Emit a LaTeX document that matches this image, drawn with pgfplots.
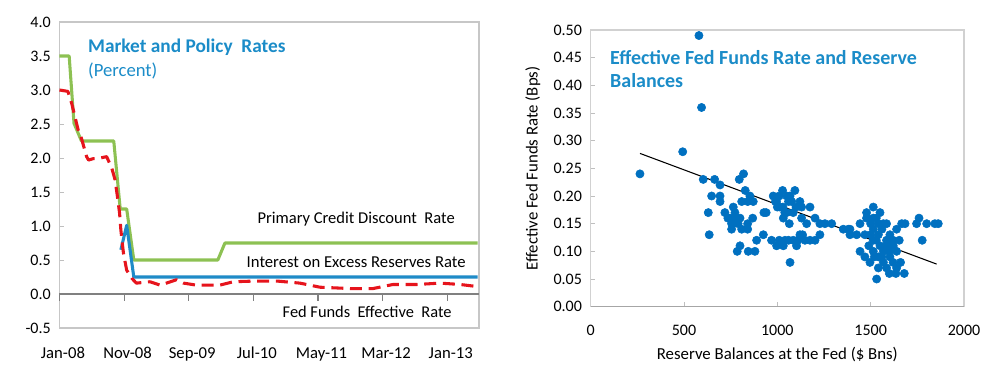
\documentclass[border=0pt]{standalone}
\usepackage{pgfplots}
\pgfplotsset{compat=1.18}
\usepackage{fontspec}
\setmainfont{Carlito}
\definecolor{cgreen}{RGB}{141,193,83}
\definecolor{cblue}{RGB}{31,139,199}
\definecolor{cred}{RGB}{230,20,28}
\definecolor{cdot}{RGB}{0,112,192}
\definecolor{ctitle}{RGB}{27,140,200}
\newcommand{\tf}{\fontsize{12}{14}\selectfont}
\newcommand{\af}{\fontsize{12.5}{15}\selectfont}
\begin{document}
\begin{tikzpicture}
% ---------------- left panel ----------------
\begin{axis}[
  at={(44.6pt,39pt)}, anchor=south west,
  width=314.6pt, height=229.5pt, scale only axis,
  xmin=0, xmax=64.9, ymin=-0.5, ymax=4.0,
  axis line style={draw=black!22, line width=0.9pt},
  xtick={0,10,20,30,40,50,60},
  xticklabels={Jan-08,Nov-08,Sep-09,Jul-10,May-11,Mar-12,Jan-13},
  ytick={-0.5,0,0.5,1,1.5,2,2.5,3,3.5,4},
  xtick pos=bottom, ytick pos=left,
  tick align=inside,
  xtick style={draw=none},
  ytick style={draw=black!25, line width=0.6pt},
  major tick length=3.5pt,
  tick label style={font=\tf},
  /pgf/number format/assume math mode=true,
  yticklabel style={/pgf/number format/fixed, /pgf/number format/fixed zerofill, /pgf/number format/precision=1, xshift=-3pt},
  xticklabel style={font=\af, xshift=2.6pt, yshift=-11pt},
  clip=false,
]
\addplot[black!50, line width=1pt, forget plot] coordinates {(0,0)(64.9,0)};
\addplot[black!50, line width=0.9pt, forget plot] coordinates {(0,0)(0,-0.1)};
\addplot[black!50, line width=0.9pt, forget plot] coordinates {(10,0)(10,-0.1)};
\addplot[black!50, line width=0.9pt, forget plot] coordinates {(20,0)(20,-0.1)};
\addplot[black!50, line width=0.9pt, forget plot] coordinates {(30,0)(30,-0.1)};
\addplot[black!50, line width=0.9pt, forget plot] coordinates {(40,0)(40,-0.1)};
\addplot[black!50, line width=0.9pt, forget plot] coordinates {(50,0)(50,-0.1)};
\addplot[black!50, line width=0.9pt, forget plot] coordinates {(60,0)(60,-0.1)};
\addplot[cgreen, line width=2.3pt, line join=round] coordinates {
(0,3.5)(1.5,3.5)(2.25,2.51)(3.4,2.25)(8.4,2.25)(9.4,1.25)(10.4,1.25)(11.5,0.5)(24.5,0.5)(25.6,0.75)(64.7,0.75)};
\addplot[cblue, line width=2.3pt, line join=round] coordinates {
(9.5,0.65)(10.4,1.01)(11.5,0.25)(64.7,0.25)};
\addplot[cred, line width=2.3pt, dash pattern=on 9pt off 5pt, line join=round] coordinates {
(0,3.0)(1.3,2.98)(1.9,2.80)(2.9,2.41)(3.4,2.29)(4.2,2.02)(4.5,1.97)(5.2,1.99)(6.3,2.0)(7.3,2.02)(8.1,1.85)(8.6,1.68)(8.9,1.48)(9.3,1.19)(9.5,0.94)(9.9,0.6)(10.4,0.35)(11.2,0.23)(11.9,0.16)(14.0,0.18)(15.6,0.13)(18.1,0.21)(19.2,0.16)(21.2,0.13)(24.8,0.13)(26.9,0.18)(30,0.19)(33.7,0.19)(37.2,0.16)(40.3,0.10)(45,0.08)(48.5,0.08)(51.6,0.14)(55.3,0.14)(58.9,0.16)(62,0.14)(64.6,0.11)};
\node[anchor=west, font=\fontsize{14.5}{17}\selectfont\bfseries, text=ctitle, inner sep=0pt] at (axis cs:4.4,3.63) {Market and Policy\ \ Rates};
\node[anchor=west, font=\fontsize{14}{17}\selectfont, text=ctitle, inner sep=0pt] at (axis cs:4.4,3.28) {(Percent)};
\node[font=\fontsize{12.4}{15}\selectfont, inner sep=0pt] at (axis cs:45.9,1.10) {Primary Credit Discount\ \ Rate};
\node[font=\fontsize{12.5}{15}\selectfont, inner sep=0pt] at (axis cs:45.9,0.47) {Interest on Excess Reserves Rate};
\node[font=\fontsize{12.3}{15}\selectfont, inner sep=0pt] at (axis cs:47.6,-0.26) {Fed Funds\ \ Effective\ \ Rate};
\end{axis}
% ---------------- right panel ----------------
\begin{axis}[
  at={(443pt,55pt)}, anchor=south west,
  width=280pt, height=207.5pt, scale only axis,
  xmin=0, xmax=2000, ymin=0, ymax=0.5,
  axis line style={draw=black!18, line width=0.9pt},
  xtick={0,500,1000,1500,2000},
  ytick={0,0.05,0.1,0.15,0.2,0.25,0.3,0.35,0.4,0.45,0.5},
  xtick pos=bottom, ytick pos=left,
  tick align=inside,
  major tick length=3.5pt,
  tick style={draw=black!25, line width=0.6pt},
  tick label style={font=\tf},
  label style={font=\fontsize{12.6}{15}\selectfont},
  /pgf/number format/assume math mode=true,
  xticklabel style={/pgf/number format/1000 sep={}, yshift=-10pt},
  yticklabel style={/pgf/number format/fixed, /pgf/number format/fixed zerofill, /pgf/number format/precision=2, xshift=-3pt},
  xlabel={Reserve Balances at the Fed (\$ Bns)},
  ylabel={Effective Fed Funds Rate (Bps)},
  xlabel style={yshift=-2pt},
  ylabel style={yshift=3pt},
  clip=false,
]
\addplot[black!35, line width=1pt, forget plot] coordinates {(0,0)(2000,0)};
\addplot[only marks, mark=*, mark size=3.1pt, cdot, mark options={draw=cdot, fill=cdot}] coordinates {
(264,0.24)(493,0.28)(580,0.49)(594,0.36)
(603,0.23)(664,0.23)(693,0.22)(648,0.20)(693,0.20)(693,0.19)(630,0.17)(635,0.13)(719,0.17)(735,0.16)(746,0.16)(764,0.18)(773,0.17)(755,0.14)(764,0.15)(755,0.15)(780,0.16)(800,0.16)(790,0.15)(809,0.14)(841,0.14)(841,0.15)(868,0.16)(796,0.23)(819,0.24)(828,0.21)(853,0.20)(809,0.19)(841,0.19)(871,0.19)(800,0.11)(785,0.10)(844,0.10)(880,0.10)(889,0.12)(928,0.17)(940,0.17)
(925,0.13)(969,0.12)(996,0.11)(1032,0.11)(1041,0.12)(1068,0.08)(1085,0.12)(1103,0.11)(1121,0.13)(1148,0.12)(1175,0.12)(1202,0.12)(1228,0.13)(1010,0.12)(1060,0.12)(1110,0.12)(1135,0.13)
(978,0.20)(990,0.19)(1028,0.21)(1094,0.21)(996,0.19)(1010,0.20)(1050,0.20)(1077,0.19)(1121,0.19)(1014,0.18)(1030,0.18)(1050,0.17)(1085,0.17)(1130,0.18)(1175,0.18)(1032,0.16)(1064,0.15)(1130,0.16)(1157,0.15)(1202,0.16)(1228,0.15)(1255,0.15)(1291,0.15)(1060,0.19)(1040,0.17)(1100,0.18)(1068,0.20)(1000,0.18)
(1353,0.14)(1389,0.14)(1389,0.13)(1425,0.13)(1469,0.13)(1380,0.14)
(1443,0.15)(1478,0.16)(1478,0.17)(1514,0.18)(1550,0.17)(1514,0.16)(1514,0.14)(1568,0.15)(1585,0.15)(1541,0.13)(1585,0.12)(1603,0.13)(1639,0.14)(1666,0.15)(1684,0.15)(1653,0.12)(1443,0.10)(1469,0.09)(1514,0.10)(1496,0.08)(1541,0.09)(1568,0.10)(1568,0.08)(1603,0.09)(1621,0.11)(1639,0.10)(1541,0.07)(1585,0.07)(1639,0.07)(1635,0.06)(1680,0.06)(1532,0.05)(1550,0.11)(1514,0.12)(1585,0.11)(1500,0.15)(1530,0.16)(1560,0.14)(1530,0.12)(1600,0.10)(1620,0.08)(1560,0.09)(1520,0.09)(1600,0.12)(1500,0.13)(1540,0.15)(1490,0.11)(1600,0.06)(1660,0.08)(1620,0.12)
(1746,0.15)(1759,0.16)(1800,0.15)(1844,0.15)(1862,0.15)(1776,0.12)};
\addplot[black, line width=0.8pt] coordinates {(264,0.277)(1853,0.077)};
\node[anchor=west, font=\fontsize{15}{17}\selectfont\bfseries, text=ctitle, inner sep=0pt] at (axis cs:103,0.451) {Effective Fed Funds Rate and Reserve};
\node[anchor=west, font=\fontsize{15}{17}\selectfont\bfseries, text=ctitle, inner sep=0pt] at (axis cs:103,0.408) {Balances};
\end{axis}
\pgfresetboundingbox
\useasboundingbox (0,0) rectangle (748.5pt,285pt);
\end{tikzpicture}
\end{document}
